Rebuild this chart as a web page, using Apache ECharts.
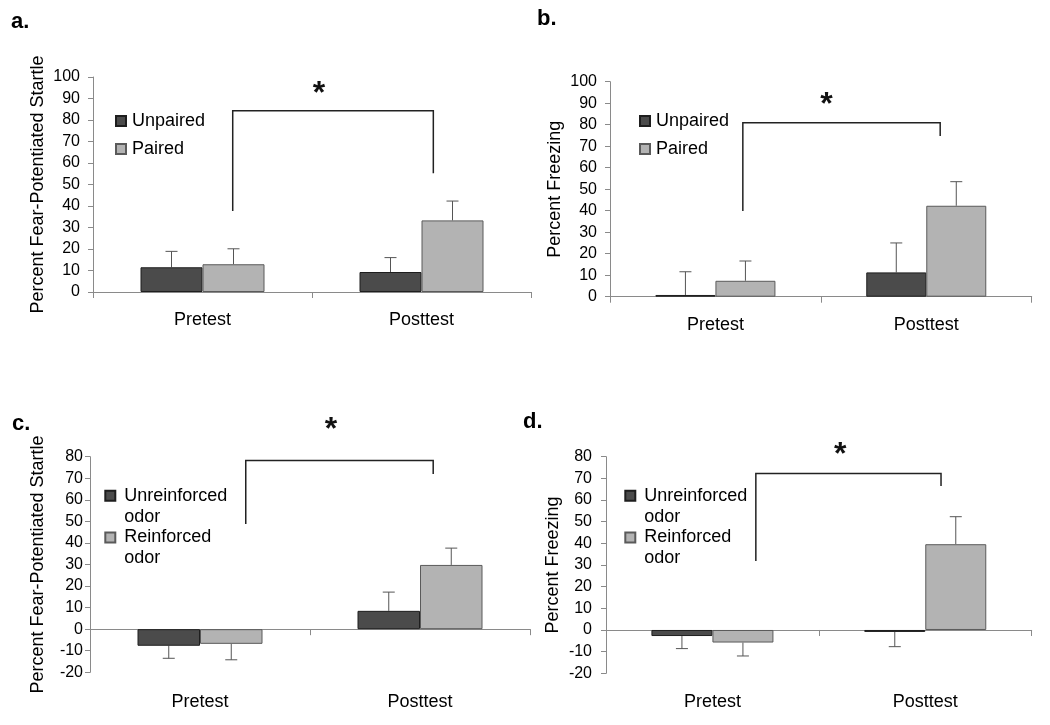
<!DOCTYPE html>
<html>
<head>
<meta charset="utf-8">
<script src="https://cdn.jsdelivr.net/npm/echarts@6/dist/echarts.min.js"></script>
<style>
html,body{margin:0;padding:0;background:#fff;}
#chart{width:1050px;height:725px;}
</style>
</head>
<body>
<div id="chart"></div>
<script>
// ---------- data ----------
const categories = ['Pretest', 'Posttest'];

// panel a: fear-potentiated startle (Unpaired vs Paired)
const aUnpaired = [11.5, 9.3];
const aUnpairedErr = [7.4, 6.7];
const aPaired = [12.9, 33.3];
const aPairedErr = [7.2, 9.0];

// panel b: freezing (Unpaired vs Paired)
const bUnpaired = [0.8, 11.3];
const bUnpairedErr = [10.8, 13.7];
const bPaired = [7.4, 42.3];
const bPairedErr = [9.2, 11.2];

// panel c: fear-potentiated startle (Unreinforced vs Reinforced odor)
const cUnreinforced = [-7.7, 8.5];
const cUnreinforcedErr = [5.8, 8.7];
const cReinforced = [-6.8, 29.8];
const cReinforcedErr = [7.4, 7.8];

// panel d: freezing (Unreinforced vs Reinforced odor)
const dUnreinforced = [-2.8, -0.9];
const dUnreinforcedErr = [5.8, 6.8];
const dReinforced = [-5.8, 39.6];
const dReinforcedErr = [6.2, 12.7];

// significance brackets: [leftX(category units), leftBottomY, rightX, rightBottomY, topY]
const aBracket = [0.138, 37.7, 1.054, 55.2, 84.3];
const bBracket = [0.130, 39.9, 1.066, 74.7, 80.9];
const cBracket = [0.208, 48.8, 1.060, 72.0, 78.2];
const dBracket = [0.204, 31.9, 1.074, 66.5, 72.3];
// star positions: [x (category units), y]
const aStar = [0.532, 95.3];
const bStar = [0.527, 92.4];
const cStar = [0.595, 95.7];
const dStar = [0.600, 84.0];

const yTicksTop = [0, 100];      // panels a, b range
const yTicksBottom = [-20, 80];  // panels c, d range

const panelLabels = ['a.', 'b.', 'c.', 'd.'];
const yNames = ['Percent Fear-Potentiated Startle', 'Percent Freezing', 'Percent Fear-Potentiated Startle', 'Percent Freezing'];

// ---------- styles ----------
const FONT = 'Liberation Sans, Arial, sans-serif';
const DARK = '#4b4b4b', DARK_B = '#1e1e1e';
const LIGHT = '#b3b3b3', LIGHT_B = '#5a5a5a';
const AXIS = '#8a8a8a';

const grids = [
  {left: 93, top: 77, width: 438, height: 215, outerBoundsMode: 'none', containLabel: false},
  {left: 610, top: 81.7, width: 421.7, height: 215, outerBoundsMode: 'none', containLabel: false},
  {left: 90, top: 456.7, width: 440, height: 215.6, outerBoundsMode: 'none', containLabel: false},
  {left: 606, top: 456.7, width: 425.7, height: 216.6, outerBoundsMode: 'none', containLabel: false}
];
const barWidths = [62, 60, 62.5, 61];
const yRanges = [yTicksTop, yTicksTop, yTicksBottom, yTicksBottom];
const nameGaps = [46, 46, 43, 44];
const yLabelMargins = [13, 13, 7, 14];
const xLabelMargins = [19, 19.5, 21, 19.5];

const panels = [
  {s: [['Unpaired', aUnpaired, aUnpairedErr], ['Paired', aPaired, aPairedErr]], br: aBracket, st: aStar},
  {s: [['Unpaired', bUnpaired, bUnpairedErr], ['Paired', bPaired, bPairedErr]], br: bBracket, st: bStar},
  {s: [['Unreinforced odor', cUnreinforced, cUnreinforcedErr], ['Reinforced odor', cReinforced, cReinforcedErr]], br: cBracket, st: cStar},
  {s: [['Unreinforced odor', dUnreinforced, dUnreinforcedErr], ['Reinforced odor', dReinforced, dReinforcedErr]], br: dBracket, st: dStar}
];

const xAxes = [], yAxes = [], series = [], legends = [];

panels.forEach((p, k) => {
  const hasNeg = yRanges[k][0] < 0;
  xAxes.push({
    type: 'category', gridIndex: k, data: categories, position: 'bottom',
    axisLine: {show: !hasNeg, onZero: !hasNeg, lineStyle: {color: AXIS, width: 1}},
    axisTick: {show: !hasNeg, length: 6, lineStyle: {color: AXIS}},
    axisLabel: {fontSize: 18, fontFamily: FONT, color: '#000', margin: xLabelMargins[k]},
    splitLine: {show: false}
  });
  yAxes.push({
    type: 'value', gridIndex: k, min: yRanges[k][0], max: yRanges[k][1], interval: 10,
    name: yNames[k], nameLocation: 'middle', nameGap: nameGaps[k],
    nameTextStyle: {fontSize: 18, fontFamily: FONT, color: '#000'},
    axisLine: {show: true, onZero: false, lineStyle: {color: AXIS, width: 1}},
    axisTick: {show: true, length: 5, lineStyle: {color: AXIS}},
    axisLabel: {fontSize: 16, fontFamily: FONT, color: '#000', margin: yLabelMargins[k]},
    splitLine: {show: false}
  });
  const bw = barWidths[k];
  p.s.forEach((s, j) => {
    series.push({
      type: 'bar', name: s[0], xAxisIndex: k, yAxisIndex: k,
      data: s[1], barWidth: bw, barGap: '0%',
      itemStyle: {color: j === 0 ? DARK : LIGHT, borderColor: j === 0 ? DARK_B : LIGHT_B, borderWidth: 1},
      emphasis: {disabled: true}, animation: false, z: 2
    });
  });
  // error bars
  const errData = [];
  p.s.forEach((s, j) => {
    s[1].forEach((v, i) => errData.push([i, v, s[2][i], j]));
  });
  series.push({
    type: 'custom', name: 'err' + k, xAxisIndex: k, yAxisIndex: k, data: errData,
    encode: {x: 0, y: 1}, animation: false, z: 1, silent: true,
    renderItem: function (params, api) {
      const i = api.value(0), v = api.value(1), e = api.value(2), j = api.value(3);
      const end = v >= 0 ? v + e : v - e;
      const p0 = api.coord([i, v]);
      const p1 = api.coord([i, end]);
      const x = p0[0] + (j === 0 ? -bw / 2 : bw / 2);
      const cap = 6;
      return {type: 'group', children: [
        {type: 'line', shape: {x1: x, y1: p0[1], x2: x, y2: p1[1]}, style: {stroke: '#555', lineWidth: 1}},
        {type: 'line', shape: {x1: x - cap, y1: p1[1], x2: x + cap, y2: p1[1]}, style: {stroke: '#555', lineWidth: 1}}
      ]};
    }
  });
  // bracket + star
  const br = p.br, st = p.st;
  series.push({
    type: 'custom', name: 'sig' + k, xAxisIndex: k, yAxisIndex: k, data: [[0, br[4]]],
    encode: {x: 0, y: 1}, animation: false, z: 3, silent: true, clip: false,
    renderItem: function (params, api) {
      const c0 = api.coord([0, br[4]]), c1 = api.coord([1, br[4]]);
      const w = c1[0] - c0[0];
      const px = f => c0[0] + f * w;
      const py = v => api.coord([0, v])[1];
      return {type: 'group', children: [
        {type: 'polyline', shape: {points: [[px(br[0]), py(br[1])], [px(br[0]), py(br[4])], [px(br[2]), py(br[4])], [px(br[2]), py(br[3])]]},
          style: {stroke: '#222', lineWidth: 1.5, fill: null}},
        {type: 'text', x: px(st[0]), y: py(st[1]) + 7,
          style: {text: '*', font: 'bold 32px ' + FONT, align: 'center', verticalAlign: 'middle', fill: '#111'}}
      ]};
    }
  });
});

// zero-line axes for panels c and d (line + downward ticks at value 0, no labels)
[2, 3].forEach(k => {
  xAxes.push({
    type: 'category', gridIndex: k, data: categories, position: 'top',
    axisLine: {show: true, onZero: true, onZeroAxisIndex: k, lineStyle: {color: AXIS, width: 1}},
    axisTick: {show: true, inside: true, length: 6, lineStyle: {color: AXIS}},
    axisLabel: {show: false},
    splitLine: {show: false}
  });
});

// legends
legends.push({
  data: ['Unpaired', 'Paired'], left: 115, top: 111, orient: 'vertical', itemGap: 8, padding: 0,
  icon: 'rect', itemWidth: 10, itemHeight: 10, selectedMode: false,
  textStyle: {fontSize: 18, fontFamily: FONT, color: '#000', lineHeight: 20, padding: [0, 0, 0, 1]}
});
legends.push({
  data: ['Unpaired', 'Paired'], left: 639, top: 111, orient: 'vertical', itemGap: 8, padding: 0,
  icon: 'rect', itemWidth: 10, itemHeight: 10, selectedMode: false,
  textStyle: {fontSize: 18, fontFamily: FONT, color: '#000', lineHeight: 20, padding: [0, 0, 0, 1]}
});
[104.3, 624.3].forEach(lx => {
  legends.push({
    data: ['Unreinforced odor', 'Reinforced odor'], left: lx, top: 464.3, orient: 'vertical', itemGap: -21.3, padding: 0,
    icon: 'rect', itemWidth: 10, itemHeight: 10, selectedMode: false,
    // blank first line so the icon lines up with the first word, second line wraps "odor"
    formatter: n => '\u00a0\n' + n.replace(' ', '\n'),
    textStyle: {fontSize: 18, fontFamily: FONT, color: '#000', lineHeight: 21, padding: [0, 0, 0, 4]}
  });
});

const labelPos = [[11, 24], [537, 21], [12, 426], [523, 424]];
const graphics = panelLabels.map((t, k) => ({
  type: 'text', left: labelPos[k][0], top: labelPos[k][1] - 13,
  style: {text: t, font: 'bold 22px ' + FONT, fill: '#000'}
}));

const chart = echarts.init(document.getElementById('chart'), null, {renderer: 'canvas'});
chart.setOption({
  backgroundColor: '#fff',
  animation: false,
  grid: grids,
  xAxis: xAxes,
  yAxis: yAxes,
  legend: legends,
  series: series,
  graphic: graphics
});
</script>
</body>
</html>
